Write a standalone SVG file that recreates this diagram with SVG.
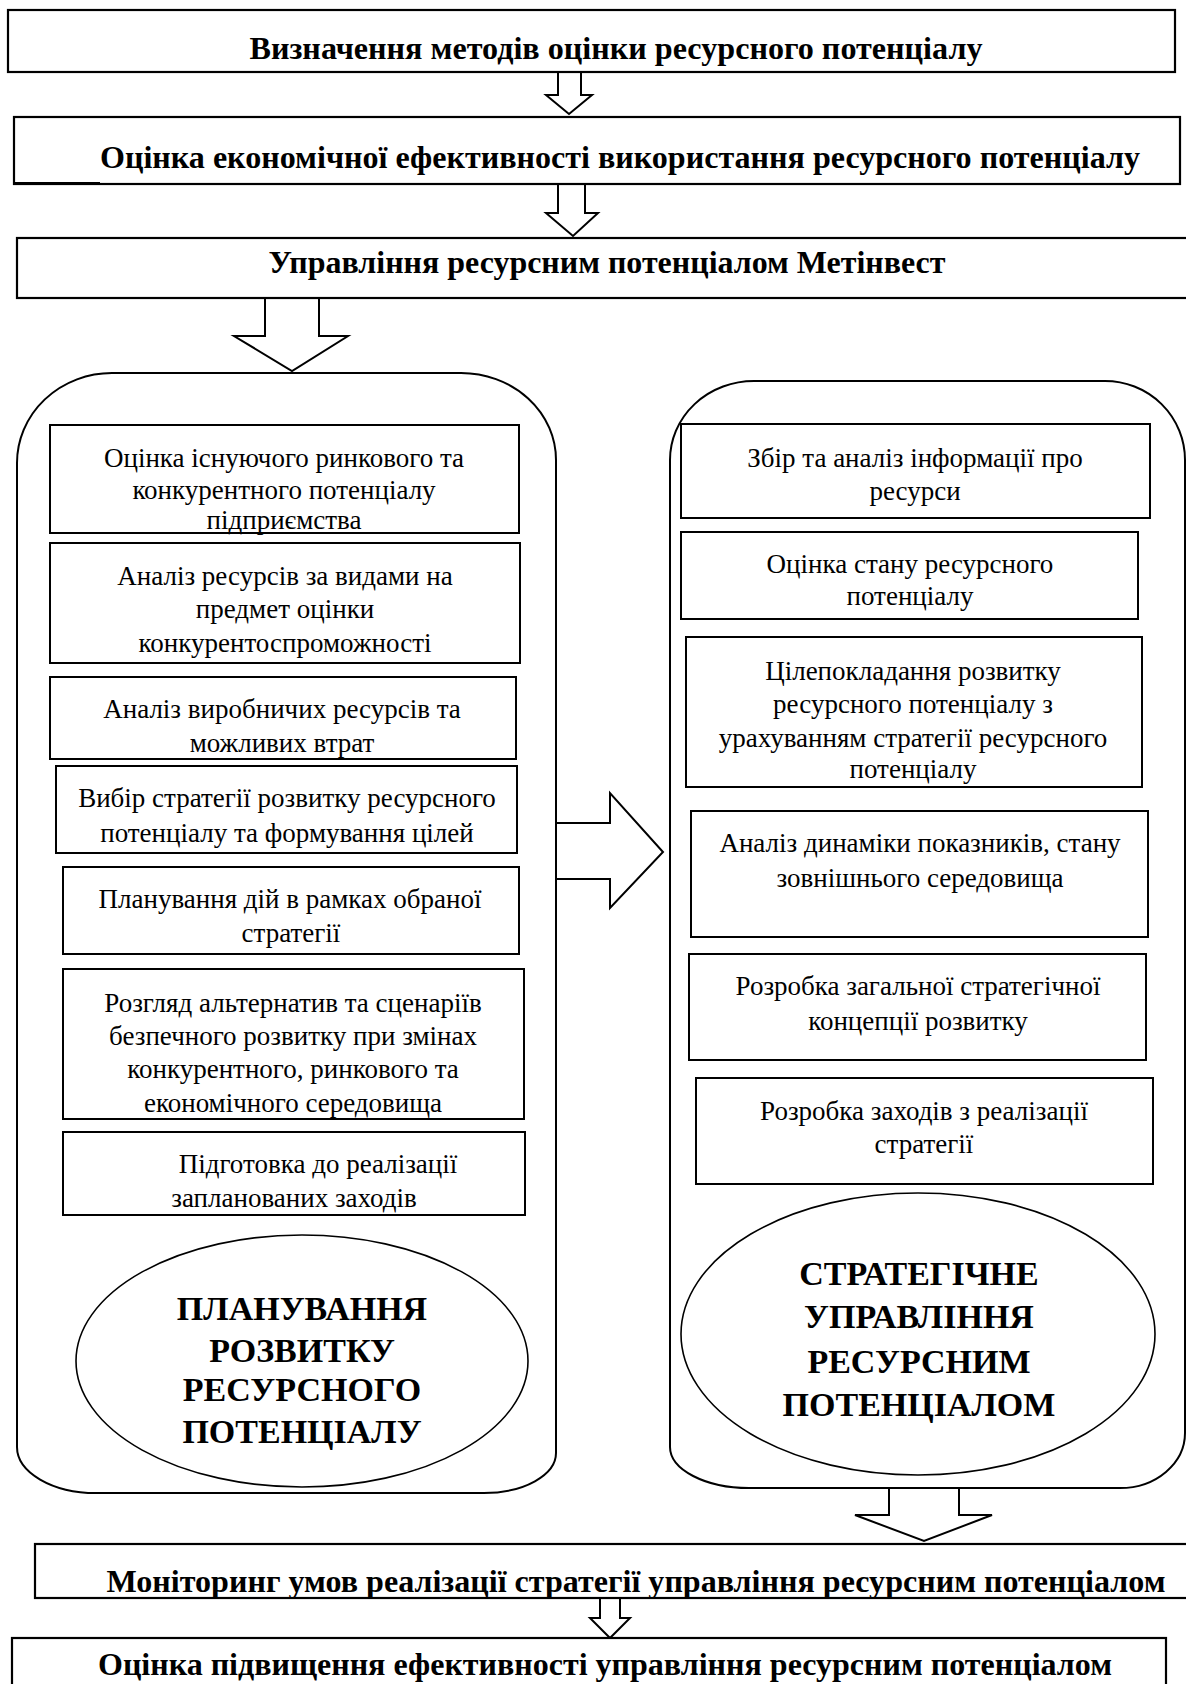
<svg xmlns="http://www.w3.org/2000/svg" width="1186" height="1684" viewBox="0 0 1186 1684">
  <style>
    .box { fill: #fff; stroke: #000; stroke-width: 2.2; }
    .inner { fill: #fff; stroke: #000; stroke-width: 2; }
    .wrap { fill: #fff; stroke: #000; stroke-width: 2; }
    .oval { fill: #fff; stroke: #000; stroke-width: 1.6; }
    .arrow { fill: #fff; stroke: #000; stroke-width: 2; stroke-linejoin: miter; }
    text { font-family: "Liberation Serif", "Times New Roman", serif; fill: #000; text-anchor: middle; }
    .head { font-size: 31px; font-weight: bold; }
    .item { font-size: 27px; }
    .cap { font-size: 34px; font-weight: bold; }
  </style>

  <rect width="1186" height="1684" fill="#fff"/>

  <!-- connectors: block arrows -->
  <g id="connectors">
    <polygon class="arrow" points="558,72 581,72 581,95 592,95 569,114 546,95 558,95"/>
    <polygon class="arrow" points="558,184 585,184 585,213 598,213 573,236 546,213 558,213"/>
    <polygon class="arrow" points="265,298 319,298 319,336 348,336 292,371 234,336 265,336"/>
    <polygon class="arrow" points="556,823 610,823 610,793 663,852 610,908 610,879 556,879"/>
    <polygon class="arrow" points="889,1488 959,1488 959,1515 992,1515 924,1541 855,1515 889,1515"/>
    <polygon class="arrow" points="600,1598 620,1598 620,1618 630,1618 610,1638 590,1618 600,1618"/>
  </g>

  <!-- top chain -->
  <g id="methods">
    <rect class="box" x="8" y="10" width="1167" height="62"/>
    <text class="head" x="616" y="59" textLength="733" lengthAdjust="spacingAndGlyphs">Визначення методів оцінки ресурсного потенціалу</text>
  </g>
  <g id="efficiency">
    <rect class="box" x="14" y="117" width="1166" height="67"/>
    <line x1="14" y1="183.5" x2="100" y2="183.5" stroke="#000" stroke-width="3"/>
    <text class="head" x="620" y="168" textLength="1040" lengthAdjust="spacingAndGlyphs">Оцінка економічної ефективності використання ресурсного потенціалу</text>
  </g>
  <g id="management">
    <rect class="box" x="17" y="238" width="1185" height="60"/>
    <text class="head" x="607" y="273" textLength="677" lengthAdjust="spacingAndGlyphs">Управління ресурсним потенціалом Метінвест</text>
  </g>

  <!-- left block: planning -->
  <g id="planning">
    <path class="wrap" d="M17,463 A95,90 0 0 1 112,373 L461,373 A95,87 0 0 1 556,460 L556,1453 A72,40 0 0 1 484,1493 L96,1493 A79,46 0 0 1 17,1447 Z"/>
    <g id="p1">
      <rect class="inner" x="50" y="425" width="469" height="108"/>
      <text class="item" x="284" y="467">Оцінка існуючого ринкового та</text>
      <text class="item" x="284" y="499">конкурентного потенціалу</text>
      <text class="item" x="284" y="529">підприємства</text>
    </g>
    <g id="p2">
      <rect class="inner" x="50" y="543" width="470" height="120"/>
      <text class="item" x="285" y="585">Аналіз ресурсів за видами на</text>
      <text class="item" x="285" y="618">предмет оцінки</text>
      <text class="item" x="285" y="652">конкурентоспроможності</text>
    </g>
    <g id="p3">
      <rect class="inner" x="50" y="677" width="466" height="82"/>
      <text class="item" x="282" y="718">Аналіз виробничих ресурсів та</text>
      <text class="item" x="282" y="752">можливих втрат</text>
    </g>
    <g id="p4">
      <rect class="inner" x="56" y="766" width="461" height="87"/>
      <text class="item" x="287" y="807">Вибір стратегії розвитку ресурсного</text>
      <text class="item" x="287" y="842">потенціалу та формування цілей</text>
    </g>
    <g id="p5">
      <rect class="inner" x="63" y="867" width="456" height="87"/>
      <text class="item" x="290" y="908">Планування дій в рамках обраної</text>
      <text class="item" x="291" y="942">стратегії</text>
    </g>
    <g id="p6">
      <rect class="inner" x="63" y="969" width="461" height="150"/>
      <text class="item" x="293" y="1012">Розгляд альтернатив та сценаріїв</text>
      <text class="item" x="293" y="1045">безпечного розвитку при змінах</text>
      <text class="item" x="293" y="1078">конкурентного, ринкового та</text>
      <text class="item" x="293" y="1112">економічного середовища</text>
    </g>
    <g id="p7">
      <rect class="inner" x="63" y="1132" width="462" height="83"/>
      <text class="item" x="318" y="1173">Підготовка до реалізації</text>
      <text class="item" x="294" y="1207">запланованих заходів</text>
    </g>
    <g id="planning-label">
      <ellipse class="oval" cx="302" cy="1361" rx="226" ry="126"/>
      <text class="cap" x="302" y="1320">ПЛАНУВАННЯ</text>
      <text class="cap" x="302" y="1362">РОЗВИТКУ</text>
      <text class="cap" x="302" y="1401">РЕСУРСНОГО</text>
      <text class="cap" x="302" y="1443">ПОТЕНЦІАЛУ</text>
    </g>
  </g>

  <!-- right block: strategic management -->
  <g id="strategic">
    <path class="wrap" d="M670,460 A84,79 0 0 1 754,381 L1105,381 A80,79 0 0 1 1185,460 L1185,1433 A65,55 0 0 1 1120,1488 L749,1488 A79,41 0 0 1 670,1447 Z"/>
    <g id="s1">
      <rect class="inner" x="681" y="424" width="469" height="94"/>
      <text class="item" x="915" y="467">Збір та аналіз інформації про</text>
      <text class="item" x="915" y="500">ресурси</text>
    </g>
    <g id="s2">
      <rect class="inner" x="681" y="532" width="457" height="87"/>
      <text class="item" x="910" y="573">Оцінка стану ресурсного</text>
      <text class="item" x="910" y="605">потенціалу</text>
    </g>
    <g id="s3">
      <rect class="inner" x="686" y="637" width="456" height="150"/>
      <text class="item" x="913" y="680">Цілепокладання розвитку</text>
      <text class="item" x="913" y="713">ресурсного потенціалу з</text>
      <text class="item" x="913" y="747">урахуванням стратегії ресурсного</text>
      <text class="item" x="913" y="778">потенціалу</text>
    </g>
    <g id="s4">
      <rect class="inner" x="691" y="811" width="457" height="126"/>
      <text class="item" x="920" y="852">Аналіз динаміки показників, стану</text>
      <text class="item" x="920" y="887">зовнішнього середовища</text>
    </g>
    <g id="s5">
      <rect class="inner" x="689" y="954" width="457" height="106"/>
      <text class="item" x="918" y="995">Розробка загальної стратегічної</text>
      <text class="item" x="918" y="1030">концепції розвитку</text>
    </g>
    <g id="s6">
      <rect class="inner" x="696" y="1078" width="457" height="106"/>
      <text class="item" x="924" y="1120">Розробка заходів з реалізації</text>
      <text class="item" x="924" y="1153">стратегії</text>
    </g>
    <g id="strategic-label">
      <ellipse class="oval" cx="918" cy="1334" rx="237" ry="141"/>
      <text class="cap" x="919" y="1285">СТРАТЕГІЧНЕ</text>
      <text class="cap" x="919" y="1328">УПРАВЛІННЯ</text>
      <text class="cap" x="919" y="1373">РЕСУРСНИМ</text>
      <text class="cap" x="919" y="1416">ПОТЕНЦІАЛОМ</text>
    </g>
  </g>

  <!-- bottom chain -->
  <g id="monitoring">
    <rect class="box" x="35" y="1544" width="1170" height="54"/>
    <text class="head" x="636" y="1592" textLength="1059" lengthAdjust="spacingAndGlyphs">Моніторинг умов реалізації стратегії управління ресурсним потенціалом</text>
  </g>
  <g id="improvement">
    <rect class="box" x="12" y="1638" width="1154" height="70"/>
    <text class="head" x="605" y="1675" textLength="1014" lengthAdjust="spacingAndGlyphs">Оцінка підвищення ефективності управління ресурсним потенціалом</text>
  </g>
</svg>
